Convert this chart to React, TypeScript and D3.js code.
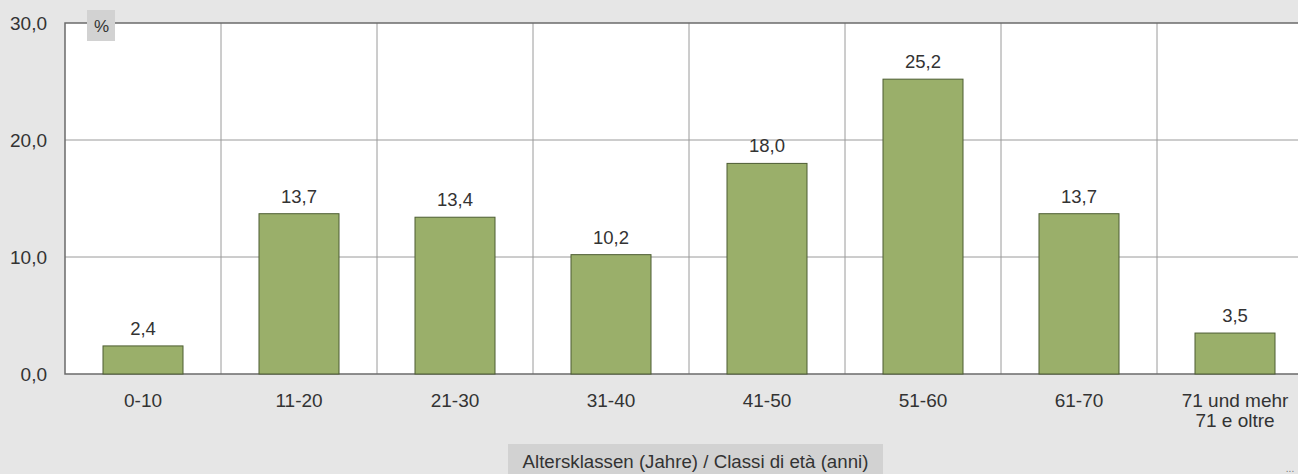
import React from "react";
import * as d3 from "d3";

const categories = ["0-10", "11-20", "21-30", "31-40", "41-50", "51-60", "61-70", "71 und mehr|71 e oltre"];
const values = [2.4, 13.7, 13.4, 10.2, 18.0, 25.2, 13.7, 3.5];
const yTicks = [0, 10, 20, 30];
const xTitle = "Altersklassen (Jahre) / Classi di età (anni)";
const unitLabel = "%";

const W = 1298;
const H = 474;
const plotLeft = 65;
const plotTop = 23;
const plotBottom = 374;
const bandW = 156;
const plotRight = plotLeft + bandW * categories.length;

const fmt = (v: number) => v.toFixed(1).replace(".", ",");

export default function App() {
  const x = d3.scaleBand<string>().domain(categories).range([plotLeft, plotRight]).paddingInner(0).paddingOuter(0);
  const y = d3.scaleLinear().domain([0, 30]).range([plotBottom, plotTop]);
  const barW = 80;
  const font = "'Liberation Sans', Arial, sans-serif";
  return (
    <svg width={W} height={H} style={{ position: "absolute", left: 0, top: 0, display: "block" }} fontFamily={font}>
      <rect x={0} y={0} width={W} height={H} fill="#e6e6e6" />
      <rect x={plotLeft} y={plotTop} width={plotRight - plotLeft} height={plotBottom - plotTop} fill="#ffffff" />
      {categories.slice(1).map((c) => (
        <line key={c} x1={x(c)!} x2={x(c)!} y1={plotTop} y2={plotBottom} stroke="#9a9a9a" strokeWidth={1} />
      ))}
      {yTicks.slice(1, -1).map((t) => (
        <line key={t} x1={plotLeft} x2={plotRight} y1={y(t)} y2={y(t)} stroke="#9a9a9a" strokeWidth={1} />
      ))}
      <path d={`M${plotRight},${plotTop}H${plotLeft}V${plotBottom}H${plotRight}`} fill="none" stroke="#6b6b6b" strokeWidth={1.5} />
      {yTicks.map((t) => (
        <text key={t} x={47} y={y(t) + 7} textAnchor="end" fontSize={19} fill="#333">{fmt(t)}</text>
      ))}
      <rect x={87} y={10} width={28} height={31} fill="#d2d2d2" />
      <text x={101.5} y={32} textAnchor="middle" fontSize={17} fill="#333">{unitLabel}</text>
      {categories.map((c, i) => {
        const cx = x(c)! + x.bandwidth() / 2;
        const v = values[i];
        const lines = c.split("|");
        return (
          <g key={c}>
            <rect x={cx - barW / 2} y={y(v)} width={barW} height={plotBottom - y(v)} fill="#9aaf6a" stroke="#4d5d33" strokeWidth={1} />
            <text x={cx} y={y(v) - 11} textAnchor="middle" fontSize={18.5} fill="#333">{fmt(v)}</text>
            {lines.map((l, j) => (
              <text key={j} x={cx} y={407 + j * 19.5} textAnchor="middle" fontSize={19} fill="#333">{l}</text>
            ))}
          </g>
        );
      })}
      <rect x={508} y={444} width={375} height={40} fill="#d2d2d2" />
      <text x={695.5} y={468} textAnchor="middle" fontSize={18.7} fill="#333">{xTitle}</text>
      <text x={1290} y={472} textAnchor="middle" fontSize={10} fill="#777">...</text>
    </svg>
  );
}
